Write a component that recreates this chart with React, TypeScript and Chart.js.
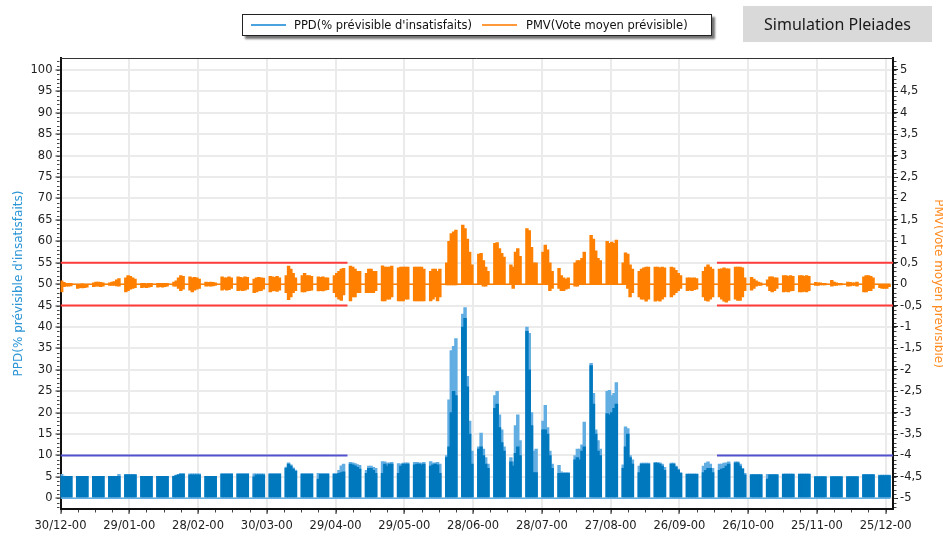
import React, { useEffect, useRef } from 'react';
import { Chart, registerables } from 'chart.js';

Chart.register(...registerables);

// ---- Axis / tick data ----
const xTickLabels = ['30/12-00', '29/01-00', '28/02-00', '30/03-00', '29/04-00', '29/05-00', '28/06-00', '28/07-00', '27/08-00', '26/09-00', '26/10-00', '25/11-00', '25/12-00'];
const X_TICK_STEP = 30; // days between date ticks
const X_MINOR_STEP = 7.5;
const Y_MINOR_STEP = 1;
const Y1_MINOR_STEP = 0.1;
const X_MAX = 363.2; // day at right edge of plot
const DAYS_PER_WEEK = 7;

// Heating-season periods (days) where comfort limits are drawn
const limitPeriods = [[0, 125.2], [286.4, 363.2]];
const ppdLimit = 10;
const pmvLimits = [-0.5, 0.5];

// ---- Daily values, one row per week (5 occupied days) ----
// PPD daily peak (%)
const ppdPeak = [
  [5.6, 5.2, 5.1, 5.1, 5.1], [5.1, 5.1, 5.1, 5.1, 5.1], [5.1, 5.1, 5.1, 5.1, 5.1], [5.1, 5.1, 5.1, 5.1, 5.6],
  [5.6, 5.6, 5.6, 5.6, 5.6], [5.1, 5.1, 5.1, 5.1, 5.1], [5.1, 5.1, 5.1, 5.1, 5.1], [5.2, 5.4, 5.6, 5.8, 5.8],
  [5.7, 5.7, 5.7, 5.7, 5.7], [5.1, 5.1, 5.1, 5.1, 5.1], [5.8, 5.8, 5.8, 5.8, 5.8], [5.8, 5.8, 5.8, 5.8, 5.8],
  [5.7, 5.7, 5.7, 5.7, 5.7], [5.8, 5.8, 5.8, 5.8, 5.8], [7.3, 8.3, 7.8, 7.1, 6.6], [5.8, 5.8, 5.8, 5.8, 5.8],
  [5.8, 5.8, 5.8, 5.8, 5.8], [5.8, 5.8, 6.5, 7.6, 8.0], [8.4, 8.3, 8.1, 7.9, 7.7], [6.5, 7.5, 7.5, 7.2, 7.0],
  [8.6, 8.5, 8.2, 8.3, 8.4], [8.1, 8.0, 8.2, 8.3, 8.3], [8.4, 8.4, 8.3, 8.2, 8.4], [8.6, 8.2, 8.3, 8.4, 8.0],
  [10, 23, 34.5, 35.5, 37.3], [43, 44.5, 28.5, 18, 11], [12, 15.2, 11.5, 9.5, 8], [24, 25, 19.5, 16, 12],
  [9.5, 8.5, 17, 19.5, 13.5], [40, 38.5, 20, 11, 11.5], [18, 21.7, 16.5, 11, 8], [7.7, 6.2, 6, 6, 6],
  [10, 11.5, 11.5, 12.5, 17.8], [31.5, 24.5, 16, 13.5, 11.5], [25, 25.2, 24, 24.5, 27], [7.8, 16.7, 16.3, 10, 9],
  [7.5, 8.2, 8.2, 8.2, 8.2], [8.3, 8.3, 8.3, 8.0, 7.2], [8.2, 8.2, 7.5, 6.8, 6.0], [5.7, 5.7, 5.7, 5.7, 5.7],
  [7.5, 8.2, 8.5, 8.0, 7.0], [8.0, 8.0, 8.2, 8.3, 8.5], [8.5, 8.5, 8.0, 7.0, 5.8], [5.6, 5.6, 5.6, 5.6, 5.6],
  [5.6, 5.6, 5.6, 5.6, 5.6], [5.7, 5.7, 5.7, 5.7, 5.7], [5.7, 5.7, 5.7, 5.7, 5.7], [5.1, 5.1, 5.1, 5.1, 5.1],
  [5.1, 5.1, 5.1, 5.1, 5.1], [5.1, 5.1, 5.1, 5.1, 5.1], [5.6, 5.6, 5.6, 5.6, 5.6], [5.4, 5.4, 5.4, 5.4, 5.4],
];
// PPD typical daily level (%)
const ppdMain = [
  [5.1, 5.1, 5.1, 5.1, 5.1], [5.1, 5.1, 5.1, 5.1, 5.1], [5.1, 5.1, 5.1, 5.1, 5.1], [5.1, 5.1, 5.1, 5.1, 5.1],
  [5.5, 5.5, 5.5, 5.5, 5.5], [5.1, 5.1, 5.1, 5.1, 5.1], [5.1, 5.1, 5.1, 5.1, 5.1], [5.1, 5.3, 5.5, 5.6, 5.6],
  [5.5, 5.5, 5.5, 5.5, 5.5], [5.1, 5.1, 5.1, 5.1, 5.1], [5.6, 5.6, 5.6, 5.6, 5.6], [5.6, 5.6, 5.6, 5.6, 5.6],
  [5.0, 5.5, 5.5, 5.5, 5.5], [5.6, 5.6, 5.6, 5.6, 5.6], [7.0, 8.0, 7.5, 6.8, 6.3], [5.6, 5.6, 5.6, 5.6, 5.6],
  [4.5, 5.6, 5.6, 5.6, 5.6], [5.6, 5.6, 5.8, 6.0, 6.2], [8.0, 7.8, 7.6, 7.2, 6.8], [5.8, 7.0, 7.0, 6.5, 5.8],
  [5.8, 8.0, 7.5, 8.0, 8.0], [5.8, 7.5, 8.0, 8.0, 8.0], [7.8, 8.0, 8.0, 7.8, 8.0], [7.5, 7.8, 8.0, 7.8, 5.8],
  [9.5, 12, 20, 25, 24], [40, 42, 26, 15, 8], [11.5, 12, 10, 8, 7], [21, 22, 16.5, 13, 11],
  [8.5, 7.5, 10.5, 12, 10], [39, 30, 17, 6, 6], [16, 16, 15, 10, 7], [5.8, 5.8, 5.8, 5.8, 5.8],
  [9, 9.5, 9, 11, 12], [31, 22, 15, 11, 10], [19.8, 19.5, 20, 21, 22], [7, 12, 15, 9.5, 8],
  [6, 8, 8, 8, 8], [8.3, 8.2, 8.0, 7.5, 6.5], [8.0, 8.0, 7.3, 6.6, 5.8], [5.6, 5.6, 5.6, 5.6, 5.6],
  [6, 6.5, 7, 7, 6], [6.5, 6.8, 7, 7.5, 8], [8.3, 8.3, 7.5, 6.8, 5.5], [5.5, 5.5, 5.5, 5.5, 5.5],
  [4.5, 5.5, 5.5, 5.5, 5.5], [5.6, 5.6, 5.6, 5.6, 5.6], [5.6, 5.6, 5.6, 5.6, 5.6], [5.0, 5.0, 5.0, 5.0, 5.0],
  [5.0, 5.0, 5.0, 5.0, 5.0], [5.0, 5.0, 5.0, 5.0, 5.0], [5.5, 5.5, 5.5, 5.5, 5.5], [5.3, 5.3, 5.3, 5.3, 5.3],
];
// PMV daily maximum
const pmvMax = [
  [0.08, 0.04, 0.02, 0.02, 0.02], [0.0, 0.0, 0.01, 0.0, 0.0], [0.03, 0.05, 0.05, 0.04, 0.03], [0.03, 0.05, 0.06, 0.1, 0.13],
  [0.15, 0.2, 0.18, 0.15, 0.12], [0.02, 0.02, 0.01, 0.02, 0.02], [0.02, 0.02, 0.02, 0.02, 0.02], [0.05, 0.08, 0.15, 0.2, 0.18],
  [0.17, 0.15, 0.16, 0.15, 0.12], [0.05, 0.04, 0.05, 0.04, 0.03], [0.17, 0.15, 0.15, 0.17, 0.15], [0.17, 0.16, 0.15, 0.17, 0.16],
  [0.12, 0.15, 0.16, 0.15, 0.14], [0.18, 0.17, 0.16, 0.18, 0.15], [0.2, 0.42, 0.35, 0.25, 0.15], [0.2, 0.25, 0.2, 0.2, 0.18],
  [0.17, 0.16, 0.17, 0.15, 0.15], [0.2, 0.25, 0.3, 0.35, 0.37], [0.42, 0.4, 0.35, 0.3, 0.3], [0.25, 0.35, 0.35, 0.3, 0.3],
  [0.43, 0.4, 0.4, 0.4, 0.42], [0.38, 0.4, 0.4, 0.4, 0.4], [0.4, 0.4, 0.4, 0.4, 0.35], [0.3, 0.35, 0.35, 0.3, 0.35],
  [0.5, 1.0, 1.18, 1.22, 1.26], [1.38, 1.3, 1.05, 0.75, 0.45], [0.7, 0.72, 0.55, 0.4, 0.3], [0.95, 0.97, 0.83, 0.72, 0.63],
  [0.45, 0.4, 0.75, 0.83, 0.65], [1.3, 1.25, 0.86, 0.5, 0.5], [0.75, 0.91, 0.8, 0.5, 0.3], [0.37, 0.2, 0.15, 0.12, 0.15],
  [0.5, 0.55, 0.55, 0.6, 0.75], [1.14, 1.05, 0.78, 0.6, 0.55], [1.0, 0.95, 0.98, 0.95, 1.03], [0.5, 0.73, 0.7, 0.45, 0.35],
  [0.3, 0.35, 0.38, 0.4, 0.4], [0.4, 0.4, 0.38, 0.4, 0.38], [0.4, 0.38, 0.32, 0.25, 0.2], [0.15, 0.15, 0.14, 0.15, 0.13],
  [0.3, 0.4, 0.45, 0.4, 0.35], [0.35, 0.36, 0.38, 0.36, 0.36], [0.4, 0.4, 0.4, 0.38, 0.15], [0.16, 0.12, 0.08, 0.05, 0.03],
  [0.1, 0.17, 0.17, 0.15, 0.15], [0.2, 0.2, 0.18, 0.2, 0.18], [0.2, 0.2, 0.18, 0.2, 0.18], [0.04, 0.03, 0.03, 0.02, 0.02],
  [0.09, 0.05, 0.03, 0.02, 0.02], [0.05, 0.04, 0.03, 0.03, 0.05], [0.17, 0.2, 0.2, 0.18, 0.15], [0.0, 0.0, 0.0, 0.0, 0.0],
];
// PMV daily minimum
const pmvMin = [
  [-0.18, -0.06, -0.05, -0.05, -0.04], [-0.1, -0.08, -0.09, -0.08, -0.07], [-0.06, -0.05, -0.05, -0.06, -0.05], [-0.03, -0.03, -0.03, -0.04, -0.05],
  [-0.18, -0.15, -0.12, -0.1, -0.08], [-0.08, -0.07, -0.08, -0.07, -0.06], [-0.07, -0.06, -0.07, -0.06, -0.05], [-0.05, -0.05, -0.1, -0.15, -0.12],
  [-0.14, -0.18, -0.14, -0.12, -0.1], [-0.05, -0.04, -0.05, -0.04, -0.03], [-0.14, -0.12, -0.14, -0.13, -0.1], [-0.15, -0.14, -0.15, -0.14, -0.12],
  [-0.2, -0.18, -0.16, -0.15, -0.12], [-0.18, -0.16, -0.15, -0.17, -0.14], [-0.2, -0.36, -0.3, -0.2, -0.15], [-0.18, -0.18, -0.16, -0.15, -0.14],
  [-0.16, -0.15, -0.16, -0.14, -0.13], [-0.2, -0.3, -0.35, -0.38, -0.25], [-0.39, -0.3, -0.3, -0.2, -0.2], [-0.2, -0.2, -0.2, -0.2, -0.15],
  [-0.39, -0.39, -0.35, -0.35, -0.3], [-0.39, -0.39, -0.39, -0.35, -0.35], [-0.39, -0.39, -0.39, -0.39, -0.39], [-0.39, -0.35, -0.3, -0.39, -0.3],
  [-0.02, -0.02, -0.02, -0.02, -0.02], [0, 0, 0, 0, 0], [0, 0, -0.05, -0.05, 0], [0, 0, 0, 0, 0],
  [0, -0.1, 0, 0, 0], [0, 0, 0, 0, 0], [0, 0, 0, -0.15, -0.1], [-0.1, -0.15, -0.15, -0.12, -0.1],
  [-0.05, -0.05, 0, 0, 0], [0, 0, 0, 0, 0], [0, 0, 0, 0, 0], [0, 0, -0.1, -0.3, -0.2],
  [-0.3, -0.35, -0.35, -0.4, -0.35], [-0.4, -0.38, -0.4, -0.35, -0.3], [-0.3, -0.25, -0.2, -0.15, -0.1], [-0.15, -0.14, -0.15, -0.13, -0.12],
  [-0.3, -0.38, -0.4, -0.35, -0.3], [-0.3, -0.35, -0.4, -0.42, -0.38], [-0.35, -0.38, -0.38, -0.3, -0.15], [-0.14, -0.1, -0.05, -0.03, -0.03],
  [-0.05, -0.15, -0.18, -0.15, -0.1], [-0.18, -0.17, -0.18, -0.16, -0.15], [-0.18, -0.18, -0.17, -0.18, -0.15], [-0.03, -0.03, -0.02, -0.02, -0.02],
  [-0.05, -0.03, -0.03, -0.02, -0.02], [-0.05, -0.04, -0.03, -0.03, -0.05], [-0.18, -0.18, -0.15, -0.15, -0.1], [-0.08, -0.1, -0.1, -0.1, -0.06],
];

const seriesLabels = ['PPD(% prévisible d\'insatisfaits)', 'PMV(Vote moyen prévisible)'];

const C_PPD = '#0078be';
const C_PPD_LIGHT = '#62aee2';
const C_PMV = '#ff8000';
const C_RED = '#ff3c3c';
const C_LIMIT_BLUE = '#5252d0';
const FONT = 'DejaVu Sans';

function dayBars(weeks: number[][], low: (w: number, d: number) => number, high: (w: number, d: number) => number) {
  const out: { x: number; y: [number, number] }[] = [];
  weeks.forEach((wk, w) => wk.forEach((_, d) => {
    out.push({ x: w * DAYS_PER_WEEK + d + 0.5, y: [low(w, d), high(w, d)] });
  }));
  return out;
}

const dataEnd = (ppdMain.length - 1) * DAYS_PER_WEEK + ppdMain[ppdMain.length - 1].length;

const framePlugin = {
  id: 'frameTop',
  afterDraw(chart: any) {
    const { ctx, chartArea: a, scales } = chart;
    ctx.save();
    ctx.strokeStyle = '#333';
    ctx.lineWidth = 1;
    ctx.beginPath();
    ctx.moveTo(a.left, a.top + 0.5);
    ctx.lineTo(a.right, a.top + 0.5);
    ctx.stroke();
    // minor ticks
    ctx.strokeStyle = '#444';
    ctx.beginPath();
    const xs = scales.x;
    for (let v = xs.min; v <= xs.max + 1e-6; v += X_MINOR_STEP) {
      const px = Math.round(xs.getPixelForValue(v)) + 0.5;
      ctx.moveTo(px, a.bottom + 1);
      ctx.lineTo(px, a.bottom + 3.5);
    }
    const ys = scales.y;
    for (let v = Math.ceil(ys.min); v <= ys.max; v += Y_MINOR_STEP) {
      const py = Math.round(ys.getPixelForValue(v)) + 0.5;
      ctx.moveTo(a.left - 1, py);
      ctx.lineTo(a.left - 3.5, py);
    }
    const y1 = scales.y1;
    for (let k = Math.ceil(y1.min / Y1_MINOR_STEP); k * Y1_MINOR_STEP <= y1.max; k++) {
      const py = Math.round(y1.getPixelForValue(k * Y1_MINOR_STEP)) + 0.5;
      ctx.moveTo(a.right + 1, py);
      ctx.lineTo(a.right + 3.5, py);
    }
    ctx.stroke();
    ctx.restore();
  },
};

export default function App() {
  const ref = useRef<HTMLCanvasElement>(null);

  useEffect(() => {
    if (!ref.current) return;
    const limitLine = (y: number, axis: string, color: string) =>
      limitPeriods.map(([a, b]) => ({
        type: 'line' as const,
        data: [{ x: a, y }, { x: b, y }],
        yAxisID: axis,
        borderColor: color,
        borderWidth: 2,
        pointRadius: 0,
        order: 0,
      }));

    const datasets: any[] = [
      ...limitLine(ppdLimit, 'y', C_LIMIT_BLUE),
      ...limitLine(pmvLimits[0], 'y1', C_RED),
      ...limitLine(pmvLimits[1], 'y1', C_RED),
      {
        type: 'line', data: [{ x: 0, y: 0 }, { x: dataEnd, y: 0 }], yAxisID: 'y',
        borderColor: C_PPD_LIGHT, borderWidth: 1.5, pointRadius: 0, order: 1,
      },
      {
        type: 'line', data: [{ x: 0, y: 0 }, { x: dataEnd, y: 0 }], yAxisID: 'y1',
        borderColor: C_PMV, borderWidth: 1.5, pointRadius: 0, order: 1,
      },
      {
        type: 'bar', label: seriesLabels[1], yAxisID: 'y1',
        data: dayBars(pmvMax, (w, d) => pmvMin[w][d], (w, d) => pmvMax[w][d]),
        backgroundColor: C_PMV, borderWidth: 0, barThickness: 2.8, grouped: false, order: 2,
      },
      {
        type: 'bar', label: seriesLabels[0] + ' main', yAxisID: 'y',
        data: dayBars(ppdMain, () => 0, (w, d) => ppdMain[w][d]),
        backgroundColor: C_PPD, borderWidth: 0, barThickness: 2.8, grouped: false, order: 3,
      },
      {
        type: 'bar', label: seriesLabels[0], yAxisID: 'y',
        data: dayBars(ppdPeak, () => 0, (w, d) => ppdPeak[w][d]),
        backgroundColor: C_PPD_LIGHT, borderWidth: 0, barThickness: 2.8, grouped: false, order: 4,
      },
    ];

    const tickFont = { family: FONT, size: 11.5 };
    const chart = new Chart(ref.current, {
      type: 'bar',
      data: { datasets },
      plugins: [framePlugin],
      options: {
        animation: false,
        responsive: false,
        events: [],
        layout: { padding: { top: 58, left: 0, right: 0, bottom: 0 } },
        plugins: { legend: { display: false }, tooltip: { enabled: false } },
        scales: {
          x: {
            type: 'linear',
            min: 0,
            max: X_MAX,
            offset: false,
            grid: { offset: false, color: '#ebebeb', lineWidth: 2, tickLength: 5, tickColor: '#222', tickWidth: 1 },
            border: { color: '#111', width: 2 },
            ticks: {
              stepSize: X_TICK_STEP,
              includeBounds: false,
              autoSkip: false,
              maxRotation: 0,
              padding: 5,
              color: '#222',
              font: tickFont,
              callback: (v: any) => xTickLabels[Math.round(Number(v) / X_TICK_STEP)] ?? '',
            },
            afterFit: (s: any) => { s.height = 27; },
          },
          y: {
            type: 'linear',
            position: 'left',
            min: -2.5,
            max: 102.8,
            grid: { color: '#ebebeb', lineWidth: 2, tickLength: 5, tickColor: '#222', tickWidth: 1 },
            border: { color: '#111', width: 2 },
            ticks: { stepSize: 5, includeBounds: false, autoSkip: false, padding: 3, color: '#222', font: tickFont },
            title: {
              display: true, text: seriesLabels[0], color: '#2b95d6',
              font: { family: FONT, size: 12 }, padding: { top: 12, bottom: 0 },
            },
            afterFit: (s: any) => { s.width = 60.5; },
          },
          y1: {
            type: 'linear',
            position: 'right',
            min: -5.25,
            max: 5.28,
            grid: { drawOnChartArea: false, tickLength: 5, tickColor: '#222', tickWidth: 1 },
            border: { color: '#111', width: 2 },
            ticks: {
              stepSize: 0.5, includeBounds: false, autoSkip: false, padding: 2, color: '#222', font: tickFont,
              callback: (v: any) => String(Math.round(Number(v) * 10) / 10).replace('.', ','),
            },
            title: {
              display: true, text: seriesLabels[1], color: '#ff8a1e',
              font: { family: FONT, size: 12 }, padding: { top: -2, bottom: 0 },
            },
            afterFit: (s: any) => { s.width = 50; },
          },
        },
      } as any,
    });
    return () => chart.destroy();
  }, []);

  const legendText: React.CSSProperties = {
    position: 'absolute', top: 0, lineHeight: '20px', fontFamily: FONT, fontSize: 11.5, color: '#111', whiteSpace: 'nowrap',
  };
  const legendLine = (left: number, color: string): React.CSSProperties => ({
    position: 'absolute', left, top: 9, width: 35, height: 2, background: color,
  });

  return (
    <div style={{ position: 'fixed', left: 0, top: 0, width: 943, height: 536, background: '#fff', overflow: 'hidden' }}>
      <canvas ref={ref} width={943} height={536} style={{ position: 'absolute', left: 0, top: 0 }} />
      <div style={{
        position: 'absolute', left: 242, top: 14, width: 468, height: 20, border: '1px solid #222',
        background: '#fff', boxShadow: '3px 3px 2px rgba(0,0,0,0.55)',
      }}>
        <div style={legendLine(8, '#4aa3de')} />
        <div style={{ ...legendText, left: 51 }}>{seriesLabels[0]}</div>
        <div style={legendLine(239, '#ff9a3c')} />
        <div style={{ ...legendText, left: 283 }}>{seriesLabels[1]}</div>
      </div>
      <div style={{
        position: 'absolute', left: 743, top: 6, width: 189, height: 36, background: '#d9d9d9',
        display: 'flex', alignItems: 'center', justifyContent: 'center',
        fontFamily: 'Noto Sans', fontSize: 16, color: '#1a1a1a',
      }}>Simulation Pleiades</div>
    </div>
  );
}
